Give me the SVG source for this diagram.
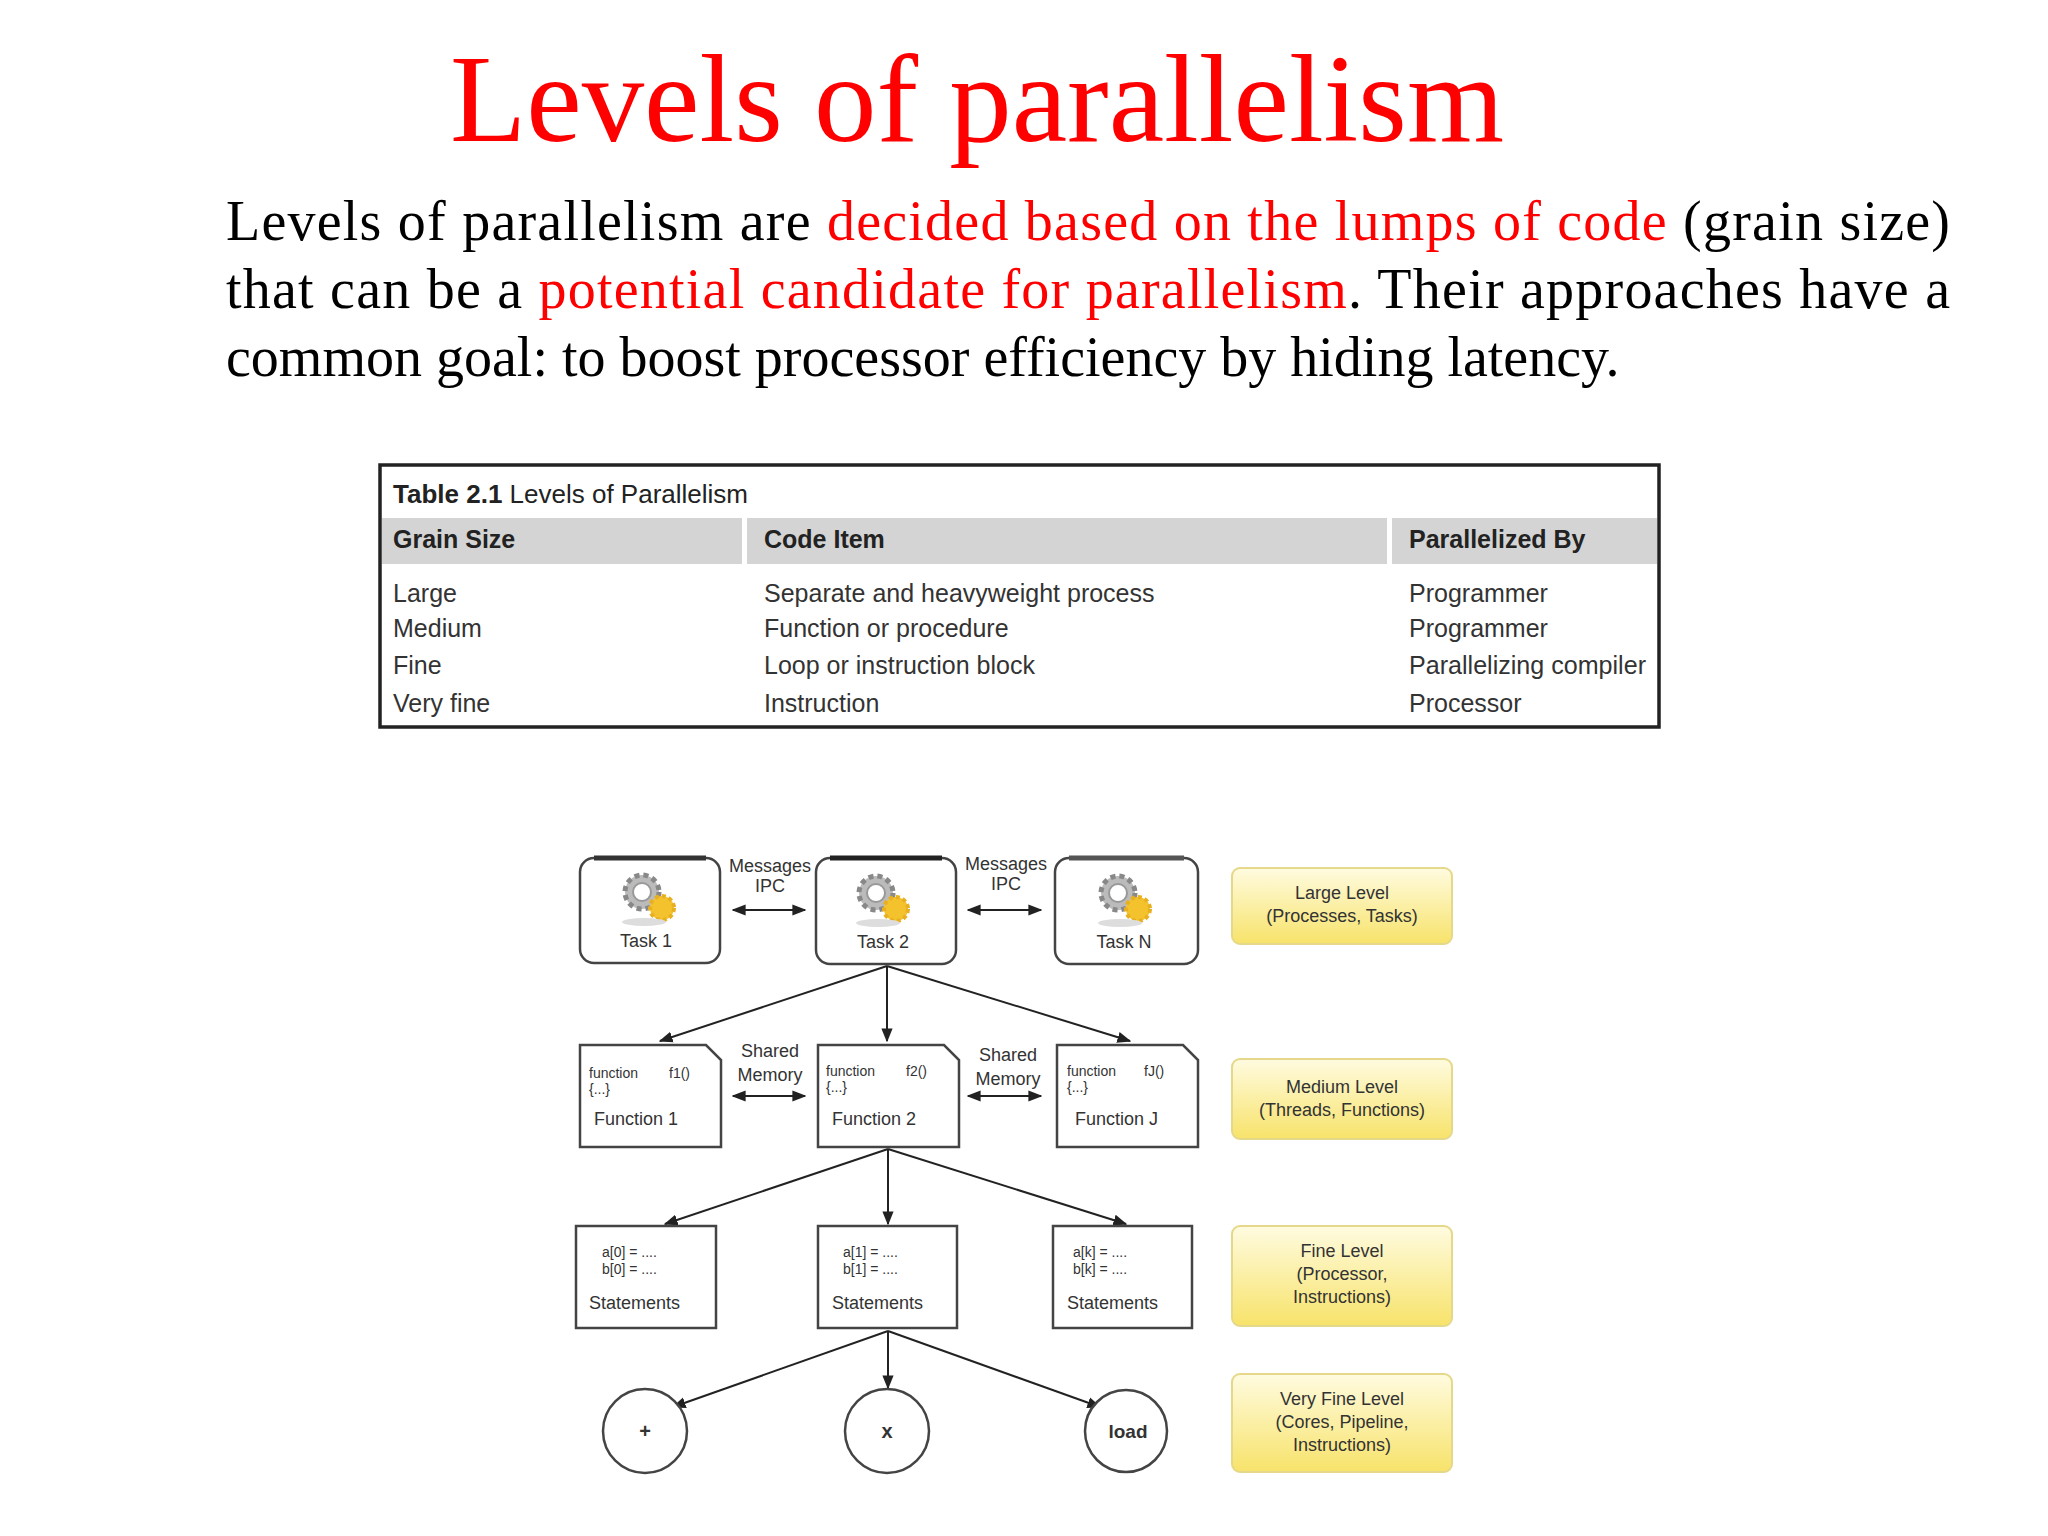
<svg xmlns="http://www.w3.org/2000/svg" width="2048" height="1536" viewBox="0 0 2048 1536">
<defs>
<marker id="ah" viewBox="0 0 10 10" refX="9" refY="5" markerWidth="7" markerHeight="7" orient="auto-start-reverse"><path d="M0,1 L10,5 L0,9 z" fill="#222"/></marker>
<linearGradient id="yl" x1="0" y1="0" x2="0" y2="1"><stop offset="0" stop-color="#fffbe0"/><stop offset="1" stop-color="#f7e36a"/></linearGradient>
<g id="gear">
<circle cx="0" cy="0" r="17" fill="#bbb" stroke="#888" stroke-width="5" stroke-dasharray="5 4"/>
<circle cx="0" cy="0" r="9" fill="#fff" stroke="#999" stroke-width="2"/>
<circle cx="20" cy="16" r="12" fill="#f3c22c" stroke="#e8b020" stroke-width="4" stroke-dasharray="4 3"/>
<ellipse cx="2" cy="30" rx="22" ry="4" fill="#ddd"/>
</g>
</defs>
<style>
.t{font-family:"Liberation Serif",serif;fill:#000}
.r{fill:#ff0000}
.s{font-family:"Liberation Sans",Arial,sans-serif;fill:#333}
.box{fill:#fff;stroke:#444;stroke-width:2.5}
.c{stroke:#222;stroke-width:2;fill:none;marker-end:url(#ah)}
.d{stroke:#222;stroke-width:2;fill:none;marker-end:url(#ah);marker-start:url(#ah)}
.y{fill:url(#yl);stroke:#e6d88a;stroke-width:2}
</style>
<rect width="2048" height="1536" fill="#fff"/>
<text class="t" x="977" y="141" font-size="124" text-anchor="middle" style="fill:#ff0000" textLength="1054" lengthAdjust="spacingAndGlyphs">Levels of parallelism</text>
<text class="t" x="226" y="240" font-size="56" textLength="1724" lengthAdjust="spacing">Levels of parallelism are <tspan class="r">decided based on the lumps of code</tspan> (grain size)</text>
<text class="t" x="226" y="308" font-size="56" textLength="1724" lengthAdjust="spacing">that can be a <tspan class="r">potential candidate for parallelism</tspan>. Their approaches have a</text>
<text class="t" x="226" y="376" font-size="56">common goal: to boost processor efficiency by hiding latency.</text>

<g id="table">
<rect x="380" y="465" width="1279" height="262" fill="#fff" stroke="#222" stroke-width="3.5"/>
<text class="s" x="393" y="503" font-size="26" style="fill:#222"><tspan font-weight="bold">Table 2.1</tspan>  Levels of Parallelism</text>
<rect x="382" y="518" width="360" height="46" fill="#d4d4d4"/>
<rect x="747" y="518" width="640" height="46" fill="#d4d4d4"/>
<rect x="1392" y="518" width="265" height="46" fill="#d4d4d4"/>
<text class="s" x="393" y="548" font-size="25" font-weight="bold" style="fill:#222">Grain Size</text>
<text class="s" x="764" y="548" font-size="25" font-weight="bold" style="fill:#222">Code Item</text>
<text class="s" x="1409" y="548" font-size="25" font-weight="bold" style="fill:#222">Parallelized By</text>
<text class="s" x="393" y="602" font-size="25">Large</text>
<text class="s" x="393" y="637" font-size="25">Medium</text>
<text class="s" x="393" y="674" font-size="25">Fine</text>
<text class="s" x="393" y="712" font-size="25">Very fine</text>
<text class="s" x="764" y="602" font-size="25">Separate and heavyweight process</text>
<text class="s" x="764" y="637" font-size="25">Function or procedure</text>
<text class="s" x="764" y="674" font-size="25">Loop or instruction block</text>
<text class="s" x="764" y="712" font-size="25">Instruction</text>
<text class="s" x="1409" y="602" font-size="25">Programmer</text>
<text class="s" x="1409" y="637" font-size="25">Programmer</text>
<text class="s" x="1409" y="674" font-size="25" textLength="237" lengthAdjust="spacingAndGlyphs">Parallelizing compiler</text>
<text class="s" x="1409" y="712" font-size="25">Processor</text>
</g>

<g id="connectors">
<path class="d" d="M733,910 H805"/>
<path class="d" d="M968,910 H1041"/>
<path class="d" d="M733,1096 H805"/>
<path class="d" d="M968,1096 H1041"/>
<path class="c" d="M887,966 L660,1041"/>
<path class="c" d="M887,966 L887,1041"/>
<path class="c" d="M887,966 L1130,1041"/>
<path class="c" d="M888,1149 L665,1224"/>
<path class="c" d="M888,1149 L888,1224"/>
<path class="c" d="M888,1149 L1126,1224"/>
<path class="c" d="M888,1331 L673,1407"/>
<path class="c" d="M888,1331 L888,1388"/>
<path class="c" d="M888,1331 L1100,1407"/>
</g>
<g id="labels">
<text class="s" x="770" y="872" font-size="18" text-anchor="middle">Messages</text>
<text class="s" x="770" y="892" font-size="18" text-anchor="middle">IPC</text>
<text class="s" x="1006" y="870" font-size="18" text-anchor="middle">Messages</text>
<text class="s" x="1006" y="890" font-size="18" text-anchor="middle">IPC</text>
<text class="s" x="770" y="1057" font-size="18" text-anchor="middle">Shared</text>
<text class="s" x="770" y="1081" font-size="18" text-anchor="middle">Memory</text>
<text class="s" x="1008" y="1061" font-size="18" text-anchor="middle">Shared</text>
<text class="s" x="1008" y="1085" font-size="18" text-anchor="middle">Memory</text>
</g>

<g id="task1"><rect class="box" x="580" y="858" width="140" height="105" rx="14"/><path d="M594,858 H706" stroke="#333" stroke-width="5"/><use href="#gear" x="642" y="892"/><text class="s" x="646" y="947" font-size="18" text-anchor="middle">Task 1</text></g>
<g id="task2"><rect class="box" x="816" y="858" width="140" height="106" rx="14"/><path d="M830,858 H942" stroke="#222" stroke-width="5"/><use href="#gear" x="876" y="893"/><text class="s" x="883" y="948" font-size="18" text-anchor="middle">Task 2</text></g>
<g id="taskN"><rect class="box" x="1055" y="858" width="143" height="106" rx="14"/><path d="M1069,858 H1184" stroke="#555" stroke-width="5"/><use href="#gear" x="1118" y="893"/><text class="s" x="1124" y="948" font-size="18" text-anchor="middle">Task N</text></g>

<g id="func1"><path class="box" d="M580,1045 H706 L721,1060 V1147 H580 Z"/><text class="s" x="589" y="1078" font-size="14">function</text><text class="s" x="669" y="1078" font-size="14">f1()</text><text class="s" x="589" y="1094" font-size="14">{...}</text><text class="s" x="594" y="1125" font-size="18">Function 1</text></g>
<g id="func2"><path class="box" d="M818,1045 H944 L959,1060 V1147 H818 Z"/><text class="s" x="826" y="1076" font-size="14">function</text><text class="s" x="906" y="1076" font-size="14">f2()</text><text class="s" x="826" y="1092" font-size="14">{...}</text><text class="s" x="832" y="1125" font-size="18">Function 2</text></g>
<g id="funcJ"><path class="box" d="M1057,1045 H1183 L1198,1060 V1147 H1057 Z"/><text class="s" x="1067" y="1076" font-size="14">function</text><text class="s" x="1144" y="1076" font-size="14">fJ()</text><text class="s" x="1067" y="1092" font-size="14">{...}</text><text class="s" x="1075" y="1125" font-size="18">Function J</text></g>

<g id="stmt1"><rect class="box" x="576" y="1226" width="140" height="102"/><text class="s" x="602" y="1257" font-size="14">a[0] = ....</text><text class="s" x="602" y="1274" font-size="14">b[0] = ....</text><text class="s" x="589" y="1309" font-size="18">Statements</text></g>
<g id="stmt2"><rect class="box" x="818" y="1226" width="139" height="102"/><text class="s" x="843" y="1257" font-size="14">a[1] = ....</text><text class="s" x="843" y="1274" font-size="14">b[1] = ....</text><text class="s" x="832" y="1309" font-size="18">Statements</text></g>
<g id="stmtk"><rect class="box" x="1053" y="1226" width="139" height="102"/><text class="s" x="1073" y="1257" font-size="14">a[k] = ....</text><text class="s" x="1073" y="1274" font-size="14">b[k] = ....</text><text class="s" x="1067" y="1309" font-size="18">Statements</text></g>

<g id="plus"><circle class="box" cx="645" cy="1431" r="42"/><text class="s" x="645" y="1438" font-size="20" text-anchor="middle" font-weight="bold">+</text></g>
<g id="times"><circle class="box" cx="887" cy="1431" r="42"/><text class="s" x="887" y="1438" font-size="20" text-anchor="middle" font-weight="bold">x</text></g>
<g id="load"><circle class="box" cx="1126" cy="1431" r="41"/><text class="s" x="1128" y="1438" font-size="19" text-anchor="middle" font-weight="bold">load</text></g>

<g id="lv1"><rect class="y" x="1232" y="868" width="220" height="76" rx="8"/><text class="s" x="1342" y="899" font-size="18" text-anchor="middle">Large Level</text><text class="s" x="1342" y="922" font-size="18" text-anchor="middle">(Processes, Tasks)</text></g>
<g id="lv2"><rect class="y" x="1232" y="1059" width="220" height="80" rx="8"/><text class="s" x="1342" y="1093" font-size="18" text-anchor="middle">Medium Level</text><text class="s" x="1342" y="1116" font-size="18" text-anchor="middle">(Threads, Functions)</text></g>
<g id="lv3"><rect class="y" x="1232" y="1226" width="220" height="100" rx="8"/><text class="s" x="1342" y="1257" font-size="18" text-anchor="middle">Fine Level</text><text class="s" x="1342" y="1280" font-size="18" text-anchor="middle">(Processor,</text><text class="s" x="1342" y="1303" font-size="18" text-anchor="middle">Instructions)</text></g>
<g id="lv4"><rect class="y" x="1232" y="1374" width="220" height="98" rx="8"/><text class="s" x="1342" y="1405" font-size="18" text-anchor="middle">Very Fine Level</text><text class="s" x="1342" y="1428" font-size="18" text-anchor="middle">(Cores, Pipeline,</text><text class="s" x="1342" y="1451" font-size="18" text-anchor="middle">Instructions)</text></g>
</svg>
